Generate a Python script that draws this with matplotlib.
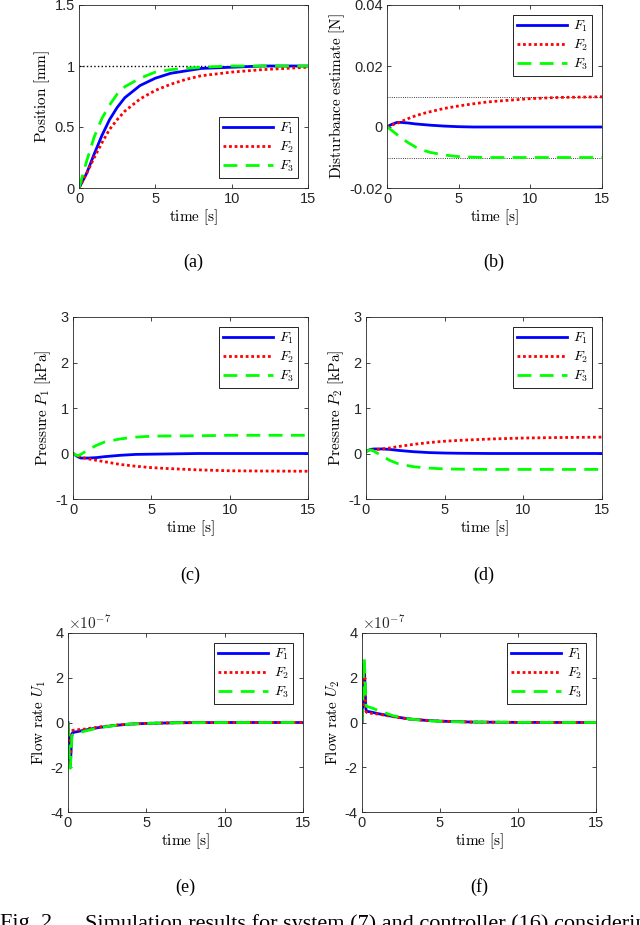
import matplotlib
matplotlib.use("Agg")
import matplotlib.pyplot as plt
import numpy as np

plt.rcParams["font.family"] = ["Liberation Sans", "DejaVu Sans"]
plt.rcParams["mathtext.fontset"] = "cm"

# ── data ────────────────────────────────────────────────────────────
t_pos = [0, 0.5, 1, 1.5, 2, 2.5, 3, 4, 5, 6, 7, 8, 10, 12, 15]
pos_f1 = [0, 0.12, 0.28, 0.43, 0.56, 0.66, 0.74, 0.84, 0.90, 0.94, 0.96, 0.98, 0.99, 1.0, 1.0]
pos_f2 = [0, 0.12, 0.25, 0.37, 0.48, 0.56, 0.63, 0.73, 0.80, 0.85, 0.89, 0.92, 0.95, 0.97, 0.99]
pos_f3 = [0, 0.22, 0.42, 0.57, 0.68, 0.77, 0.83, 0.90, 0.95, 0.97, 0.98, 0.99, 1.0, 1.0, 1.0]
pos_ref = 1.0

t_dist = [0, 0.3, 0.7, 1, 1.5, 2, 2.5, 3, 4, 5, 6, 7, 8, 10, 12, 15]
dist_f1 = [0, 0.0008, 0.0015, 0.0015, 0.0013, 0.0010, 0.0008, 0.0006, 0.0003,
           0.0001, 0, 0, 0, 0, 0, 0]
dist_f2 = [0, 0.0006, 0.0012, 0.0018, 0.0028, 0.0037, 0.0044, 0.0050, 0.0061,
           0.0069, 0.0076, 0.0082, 0.0086, 0.0093, 0.0097, 0.0099]
dist_f3 = [0, -0.0010, -0.0025, -0.0036, -0.0052, -0.0066, -0.0076, -0.0083,
           -0.0092, -0.0097, -0.0099, -0.0100, -0.0100, -0.0100, -0.0100, -0.0100]
dist_ref = [0.01, -0.01]

t_p = [0, 0.3, 0.5, 1, 1.5, 2, 3, 4, 5, 6, 8, 10, 12, 15]
p1_f1 = [0, -0.07, -0.10, -0.10, -0.09, -0.07, -0.04, -0.02, -0.015, -0.01, 0, 0, 0, 0]
p1_f2 = [0, -0.05, -0.08, -0.12, -0.15, -0.18, -0.24, -0.28, -0.31, -0.33, -0.36, -0.38, -0.385, -0.39]
p1_f3 = [0, -0.05, -0.02, 0.09, 0.18, 0.25, 0.32, 0.36, 0.38, 0.385, 0.39, 0.40, 0.40, 0.40]
p2_f1 = [0.05, 0.09, 0.10, 0.10, 0.09, 0.07, 0.04, 0.02, 0.01, 0.005, 0, 0, 0, 0]
p2_f2 = [0.05, 0.07, 0.08, 0.10, 0.12, 0.15, 0.20, 0.24, 0.27, 0.29, 0.32, 0.34, 0.35, 0.36]
p2_f3 = [0.05, 0.08, 0.05, -0.05, -0.15, -0.22, -0.29, -0.32, -0.34, -0.345, -0.35, -0.35, -0.35, -0.35]

# flow rates in units of 1e-7
t_u = [0, 0.05, 0.1, 0.15, 0.2, 0.25, 0.3, 0.5, 1, 2, 3, 4, 5, 7, 10, 15]
u1_f1 = [0, -0.8, -1.6, -1.9, -1.2, -0.5, -0.45, -0.42, -0.35, -0.22, -0.13, -0.07, -0.04, -0.01, 0, 0]
u1_f2 = [0, -0.7, -1.5, -1.8, -1.0, -0.4, -0.35, -0.33, -0.30, -0.20, -0.12, -0.07, -0.04, -0.01, 0, 0]
u1_f3 = [0, -1.0, -1.8, -2.05, -1.3, -0.6, -0.55, -0.50, -0.40, -0.23, -0.13, -0.07, -0.04, -0.01, 0, 0]
u2_f1 = [0, 0.8, 1.8, 2.6, 1.5, 0.6, 0.50, 0.48, 0.40, 0.27, 0.16, 0.10, 0.06, 0.02, 0.005, 0]
u2_f2 = [0, 0.7, 1.6, 2.5, 1.3, 0.5, 0.45, 0.42, 0.38, 0.26, 0.16, 0.10, 0.06, 0.02, 0.005, 0]
u2_f3 = [0, 1.0, 2.2, 2.9, 1.8, 0.8, 0.72, 0.68, 0.55, 0.30, 0.16, 0.09, 0.05, 0.02, 0.005, 0]

labels = [r"$F_1$", r"$F_2$", r"$F_3$"]
styles = [dict(color="#0000ff", ls="-"),
          dict(color="#ff0000", ls=(0, (1, 1))),
          dict(color="#00ff00", ls=(0, (5, 3)))]

W, H = 640, 925
fig = plt.figure(figsize=(W / 100, H / 100), dpi=100)


def px_axes(left, top, right, bottom):
    return fig.add_axes([left / W, 1 - bottom / H, (right - left) / W, (bottom - top) / H])


def style_axes(ax, ylim, yticks, ylabel):
    ax.set_xlim(0, 15)
    ax.set_xticks([0, 5, 10, 15])
    ax.set_ylim(*ylim)
    ax.set_yticks(yticks)
    ax.tick_params(direction="in", top=True, right=True, length=3, width=0.6,
                   labelsize=10.5, colors="#262626", pad=3)
    for s in ax.spines.values():
        s.set_linewidth(0.6)
        s.set_color("#262626")
    ax.set_xlabel(r"$\mathrm{time\ [s]}$", fontsize=11, labelpad=1)
    ax.set_ylabel(ylabel, fontsize=11, labelpad=2)


def plot_series(ax, t, series, loc):
    for y, lab, st in zip(series, labels, styles):
        ax.plot(t, y, lw=2, label=lab, **st)
    leg = ax.legend(loc=loc, fontsize=10, handlelength=3.6, fancybox=False,
                    framealpha=1, edgecolor="black", borderaxespad=0.7,
                    labelspacing=0.25, borderpad=0.3, handletextpad=0.4)
    leg.get_frame().set_linewidth(0.6)


# (a) position
ax = px_axes(79, 5, 308, 188)
ax.axhline(pos_ref, color="black", ls=":", lw=1)
plot_series(ax, t_pos, [pos_f1, pos_f2, pos_f3], "lower right")
style_axes(ax, (0, 1.5), [0, 0.5, 1, 1.5], r"$\mathrm{Position\ [mm]}$")
ax.set_yticklabels(["0", "0.5", "1", "1.5"])

# (b) disturbance estimate
ax = px_axes(387, 5, 602, 188)
for r in dist_ref:
    ax.axhline(r, color="black", ls=":", lw=0.6)
plot_series(ax, t_dist, [dist_f1, dist_f2, dist_f3], "upper right")
style_axes(ax, (-0.02, 0.04), [-0.02, 0, 0.02, 0.04],
           r"$\mathrm{Disturbance\ estimate\ [N]}$")
ax.set_yticklabels(["-0.02", "0", "0.02", "0.04"])

# (c) pressure P1
ax = px_axes(73, 317, 308, 499)
plot_series(ax, t_p, [p1_f1, p1_f2, p1_f3], "upper right")
style_axes(ax, (-1, 3), [-1, 0, 1, 2, 3], r"$\mathrm{Pressure}\ P_1\ \mathrm{[kPa]}$")
ax.set_yticklabels(["-1", "0", "1", "2", "3"])

# (d) pressure P2
ax = px_axes(366, 317, 602, 499)
plot_series(ax, t_p, [p2_f1, p2_f2, p2_f3], "upper right")
style_axes(ax, (-1, 3), [-1, 0, 1, 2, 3], r"$\mathrm{Pressure}\ P_2\ \mathrm{[kPa]}$")
ax.set_yticklabels(["-1", "0", "1", "2", "3"])

# (e) flow rate U1
ax = px_axes(68, 633, 303, 812)
plot_series(ax, t_u, [u1_f1, u1_f2, u1_f3], "upper right")
style_axes(ax, (-4, 4), [-4, -2, 0, 2, 4], r"$\mathrm{Flow\ rate}\ U_1$")
ax.set_yticklabels(["-4", "-2", "0", "2", "4"])
ax.text(0, 1.005, r"$\mathsf{\times 10^{-7}}$", transform=ax.transAxes,
        fontsize=11, ha="left", va="bottom", color="#262626")

# (f) flow rate U2
ax = px_axes(362, 633, 596, 812)
plot_series(ax, t_u, [u2_f1, u2_f2, u2_f3], "upper right")
style_axes(ax, (-4, 4), [-4, -2, 0, 2, 4], r"$\mathrm{Flow\ rate}\ U_2$")
ax.set_yticklabels(["-4", "-2", "0", "2", "4"])
ax.text(0, 1.005, r"$\mathsf{\times 10^{-7}}$", transform=ax.transAxes,
        fontsize=11, ha="left", va="bottom", color="#262626")

# sub-captions
serif = ["Liberation Serif", "DejaVu Serif"]
for x, y, s in [(193, 262, "(a)"), (494, 262, "(b)"), (190, 575, "(c)"),
                (484, 575, "(d)"), (185, 887, "(e)"), (479, 887, "(f)")]:
    fig.text(x / W, 1 - y / H, s, ha="center", va="center", fontsize=13, family=serif)

# figure caption, cut by the bottom edge as in the reference
fig.text(0 / W, 1 - 914 / H, "Fig. 2.", ha="left", va="top", fontsize=16, family=serif)
fig.text(85 / W, 1 - 914 / H,
         "Simulation results for system (7) and controller (16) considering",
         ha="left", va="top", fontsize=16, family=serif)

fig.savefig("out.png", dpi=100)
